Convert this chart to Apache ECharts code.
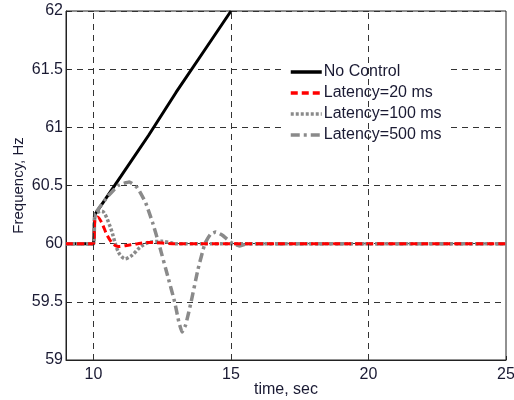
<!DOCTYPE html>
<html><head><meta charset="utf-8">
<script src="https://cdn.jsdelivr.net/npm/echarts@6/dist/echarts.min.js"></script>
<style>html,body{margin:0;padding:0;background:#fff}#c{width:514px;height:400px}</style>
</head><body><div id="c"></div>
<script>
var xTicks = [10, 15, 20, 25];
var yTicks = [59, 59.5, 60, 60.5, 61, 61.5, 62];
var vGrid = [10, 15, 20];
var seriesNames = ['No Control', 'Latency=20 ms', 'Latency=100 ms', 'Latency=500 ms'];

var noCtrlT = [9, 10, 10.05, 11, 12, 13, 14, 15];
var noCtrlF = [60, 60, 60.25, 60.58, 60.93, 61.3, 61.65, 62];

var lat20T = [9, 10, 10.05, 10.15, 10.3, 10.5, 10.7, 10.9, 11.2, 11.6, 12, 13, 25];
var lat20F = [60, 60, 60.2, 60.23, 60.18, 60.07, 60.0, 59.975, 59.985, 60.0, 60.01, 60.0, 60];

var lat100T = [9, 10, 10.05, 10.3, 10.6, 10.9, 11.15, 11.4, 11.7, 12, 12.5, 13, 25];
var lat100F = [60, 60, 60.25, 60.28, 60.15, 59.93, 59.87, 59.9, 59.97, 60.01, 60.02, 60.0, 60];

var lat500T = [9, 10, 10.05, 10.5, 10.9, 11.3, 11.6, 11.9, 12.15, 12.4, 12.7, 12.95, 13.1, 13.22, 13.35, 13.55, 13.8, 14.05, 14.25, 14.45, 14.7, 15.0, 15.3, 15.6, 16, 25];
var lat500F = [60, 60, 60.25, 60.4, 60.5, 60.53, 60.48, 60.35, 60.18, 59.98, 59.72, 59.5, 59.33, 59.24, 59.3, 59.5, 59.78, 60.0, 60.08, 60.1, 60.07, 60.01, 59.98, 60.0, 60.0, 60];

function pairs(t, f) { return t.map(function (v, i) { return [v, f[i]]; }); }

var textColor = '#1a1a33';
var font = 'Liberation Sans, Arial, Helvetica, sans-serif';

var chart = echarts.init(document.getElementById('c'), null, {renderer: 'canvas'});
chart.setOption({
  animation: false,
  backgroundColor: '#fff',
  grid: {left: 66, right: 8, top: 11, bottom: 40, show: true, borderColor: '#222', borderWidth: 1,
    backgroundColor: 'transparent', containLabel: false, outerBoundsMode: 'none'},
  xAxis: {
    type: 'value', min: 9, max: 25,
    name: 'time, sec', nameLocation: 'middle', nameGap: 22, nameMoveOverlap: false,
    nameTextStyle: {fontSize: 16, color: textColor, fontFamily: font},
    axisLine: {show: true, lineStyle: {color: '#222', width: 1}},
    axisTick: {show: true, inside: true, length: 4, customValues: xTicks, lineStyle: {color: '#222'}},
    axisLabel: {customValues: xTicks, fontSize: 16, color: textColor, fontFamily: font, margin: 7},
    splitLine: {show: false}
  },
  yAxis: {
    type: 'value', min: 59, max: 62, interval: 0.5,
    name: 'Frequency, Hz', nameLocation: 'middle', nameGap: 40, nameMoveOverlap: false,
    nameTextStyle: {fontSize: 15, color: textColor, fontFamily: font},
    axisLine: {show: true, lineStyle: {color: '#222', width: 1}},
    axisTick: {show: true, inside: true, length: 4, lineStyle: {color: '#222'}},
    axisLabel: {fontSize: 16, color: textColor, fontFamily: font, margin: 3,
      formatter: function (v) { return yTicks.indexOf(v) >= 0 ? String(v) : ''; }},
    splitLine: {show: true, lineStyle: {color: '#333', width: 1, type: [6, 5]}}
  },
  legend: {
    orient: 'vertical', left: 283, top: 56,
    data: seriesNames,
    itemWidth: 31, itemHeight: 14, itemGap: 5,
    padding: [8, 8, 4, 6],
    backgroundColor: '#fff',
    itemStyle: {opacity: 0},
    lineStyle: {width: 3.5},
    textStyle: {fontSize: 16, color: textColor, fontFamily: font, padding: [0, 0, 0, -3]}
  },
  series: [
    {
      type: 'line', name: 'grid', data: [[9, 60]], symbol: 'none', silent: true, z: 1,
      lineStyle: {opacity: 0},
      markLine: {
        silent: true, symbol: ['none', 'none'], label: {show: false}, animation: false,
        lineStyle: {color: '#333', width: 1, type: [6, 5]},
        data: vGrid.map(function (v) { return {xAxis: v}; })
      }
    },
    {type: 'line', name: seriesNames[0], data: pairs(noCtrlT, noCtrlF), symbol: 'none', z: 3,
      lineStyle: {color: '#000', width: 3, type: 'solid'}, itemStyle: {color: '#000'}},
    {type: 'line', name: seriesNames[1], data: pairs(lat20T, lat20F), symbol: 'none', z: 4, smooth: 0.3,
      lineStyle: {color: '#ff0000', width: 3, type: [7, 4]}, itemStyle: {color: '#ff0000'}},
    {type: 'line', name: seriesNames[2], data: pairs(lat100T, lat100F), symbol: 'none', z: 3, smooth: 0.3,
      lineStyle: {color: '#8a8a8a', width: 3.5, type: [3, 2]}, itemStyle: {color: '#8a8a8a'}},
    {type: 'line', name: seriesNames[3], data: pairs(lat500T, lat500F), symbol: 'none', z: 3, smooth: 0.12,
      lineStyle: {color: '#8a8a8a', width: 3.5, type: [9, 4, 3, 4]}, itemStyle: {color: '#8a8a8a'}}
  ]
});
</script>
</body></html>
